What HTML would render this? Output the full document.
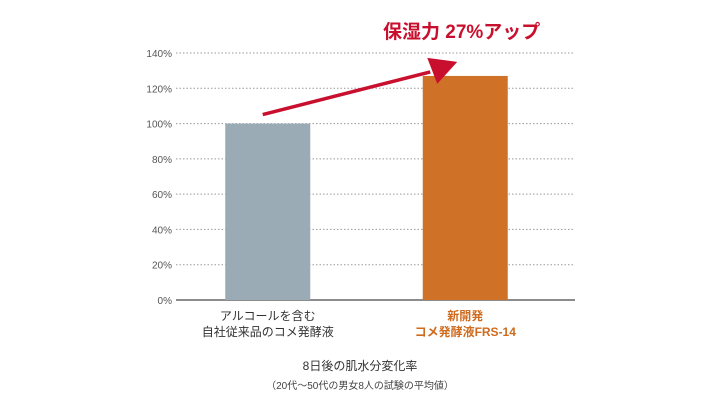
<!DOCTYPE html>
<html><head><meta charset="utf-8"><style>
body{margin:0;background:#fff;}
svg{display:block;font-family:"Liberation Sans","Noto Sans CJK JP",sans-serif;}
</style></head><body>
<svg id="c" width="720" height="415"></svg>
<script>
const categories1=["アルコールを含む","新開発"];
const categories2=["自社従来品のコメ発酵液","コメ発酵液FRS-14"];
const values=[100,127];
const ticks=[0,20,40,60,80,100,120,140];
const colors=["#9aabb6","#cf7126"];
const labelColors=["#333","#cf6b1e"];
const NS="http://www.w3.org/2000/svg";
const svg=document.getElementById('c');
const x0=176,x1=575,yBase=300,yTop=53,maxV=140;
const y=v=>yBase-(v/maxV)*(yBase-yTop);
const bandW=(x1-x0)/2;
const xc=i=>x0+bandW*i+bandW/2+(i==0?-8:-10);
function el(t,a,txt){const e=document.createElementNS(NS,t);for(const k in a)e.setAttribute(k,a[k]);if(txt!=null)e.textContent=txt;svg.appendChild(e);return e;}
ticks.forEach(t=>{
 const g=el('line',{x1:x0,x2:x1,y1:y(t),y2:y(t),stroke:t==0?'#666':'#999','stroke-width':t==0?1.5:1,'stroke-dasharray':t==0?'':'1.5,2'});
 
 
 const l=el('text',{x:x0-4,y:y(t)+4,'text-anchor':'end','font-size':10,fill:'#555'},t+'%');
 
 
});
values.forEach((v,i)=>{
 const b=el('rect',{x:xc(i)-42.5,y:y(v),width:85,height:yBase-y(v),fill:colors[i]});
 
 
 const a=el('text',{x:xc(i),y:320,'text-anchor':'middle','font-size':12,fill:labelColors[i],'font-weight':i?'bold':'normal'},categories1[i]);
 
 
 const c=el('text',{x:xc(i),y:336,'text-anchor':'middle','font-size':12,fill:labelColors[i],'font-weight':i?'bold':'normal'},categories2[i]);
 
 
});
const ar=el('line',{x1:xc(0)-5,y1:y(values[0])-9,x2:xc(1)-35,y2:y(values[1])-4,stroke:'#c8102e','stroke-width':3.5});


const hx=xc(1)-8,hy=y(values[1])-14;
const ah=el('polygon',{points:`${hx},${hy} ${hx-30},${hy-4} ${hx-20},${hy+22}`,fill:'#c8102e'});


const h=el('text',{x:383,y:38,'font-size':19,'font-weight':'bold',fill:'#c8102e'},'保湿力 27%アップ');


const t1=el('text',{x:360,y:370,'text-anchor':'middle','font-size':12,fill:'#333'},'8日後の肌水分変化率');


const t2=el('text',{x:360,y:389,'text-anchor':'middle','font-size':10,fill:'#444'},'（20代〜50代の男女8人の試験の平均値）');


</script>
</body></html>
